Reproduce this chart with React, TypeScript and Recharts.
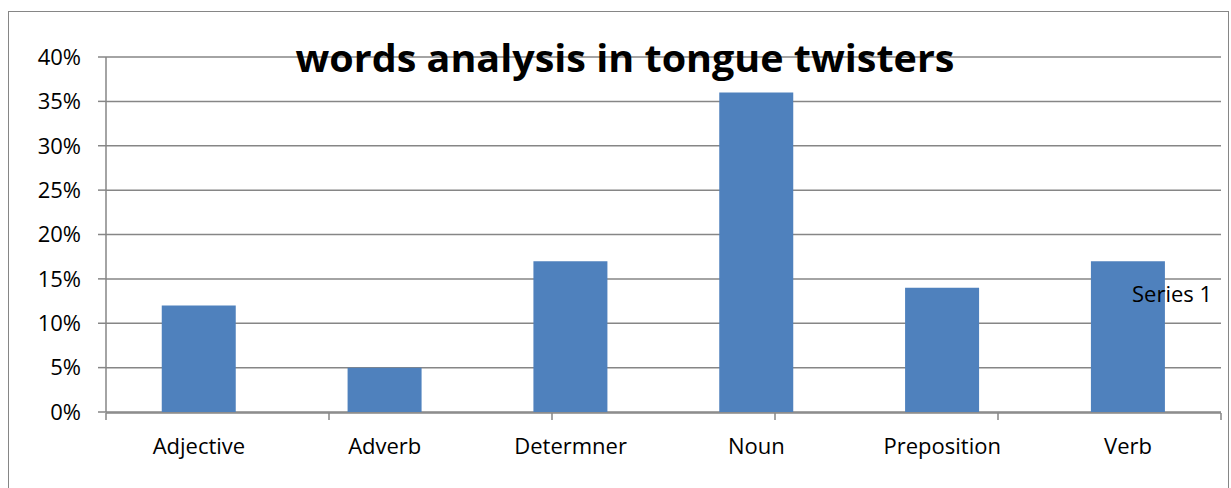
import React from 'react'
import { BarChart, Bar, XAxis, YAxis, CartesianGrid, Legend } from 'recharts'

const categories = ['Adjective', 'Adverb', 'Determner', 'Noun', 'Preposition', 'Verb']
const series1 = [0.12, 0.05, 0.17, 0.36, 0.14, 0.17]
const yTicks = [0, 0.05, 0.1, 0.15, 0.2, 0.25, 0.3, 0.35, 0.4]
const boundaryTicks = [0, 1, 2, 3, 4, 5, 6]

const data = categories.map((name, i) => ({ name, 'Series 1': series1[i] }))

const font = '"Open Sans", "Noto Sans", sans-serif'
const grey = '#868686'
const barColor = '#4F81BD'

// legend key sits on top of the Verb bar, so only the text shows
function SeriesLegend({ payload }: any) {
  return (
    <div style={{ whiteSpace: 'nowrap', fontFamily: font, fontSize: 22, lineHeight: '22px' }}>
      {(payload || []).map((p: any) => (
        <div key={p.value} style={{ display: 'flex', alignItems: 'center' }}>
          <span style={{ display: 'inline-block', width: 12, height: 12, background: p.color, marginRight: 8 }} />
          <span style={{ color: '#000' }}>{p.value}</span>
        </div>
      ))}
    </div>
  )
}

export default function App() {
  return (
    <div style={{ position: 'absolute', left: 0, top: 0, width: 1231, height: 488, background: '#fff', fontFamily: font }}>
      <div
        style={{
          position: 'absolute',
          left: 8,
          top: 11,
          width: 1221,
          height: 490,
          border: `1.5px solid ${grey}`,
          boxSizing: 'border-box',
        }}
      />
      <BarChart
        width={1231}
        height={488}
        data={data}
        margin={{ top: 57, right: 10, bottom: 74, left: 0 }}
        barCategoryGap="30%"
        style={{ position: 'absolute', left: 0, top: 0 }}
      >
        <CartesianGrid vertical={false} stroke={grey} strokeWidth={1.5} />
        <XAxis
          dataKey="name"
          height={1}
          tickLine={false}
          axisLine={false}
          tickMargin={20}
          interval={0}
          tick={{ fill: '#000', fontSize: 22, fontFamily: font }}
        />
        <XAxis
          xAxisId="bounds"
          type="number"
          domain={[0, 6]}
          ticks={boundaryTicks}
          interval={0}
          tickFormatter={() => ''}
          tickSize={7}
          stroke={grey}
          strokeWidth={1.5}
          height={1}
        />
        <YAxis
          domain={[0, 0.4]}
          ticks={yTicks}
          width={106}
          tickSize={8}
          tickMargin={17}
          stroke={grey}
          strokeWidth={1.5}
          tickFormatter={(v: number) => `${Math.round(v * 100)}%`}
          tick={{ fill: '#000', fontSize: 22, fontFamily: font }}
        />
        <Legend
          layout="vertical"
          align="right"
          verticalAlign="top"
          content={<SeriesLegend />}
          wrapperStyle={{ top: 282, left: 1124, width: 0, height: 0, overflow: 'visible' }}
        />
        <Bar dataKey="Series 1" fill={barColor} isAnimationActive={false} />
        <text
          x={625}
          y={72}
          textAnchor="middle"
          fontFamily={font}
          fontWeight={700}
          fontSize={38}
          textLength={659}
          lengthAdjust="spacingAndGlyphs"
          fill="#000"
        >
          words analysis in tongue twisters
        </text>
      </BarChart>
    </div>
  )
}
